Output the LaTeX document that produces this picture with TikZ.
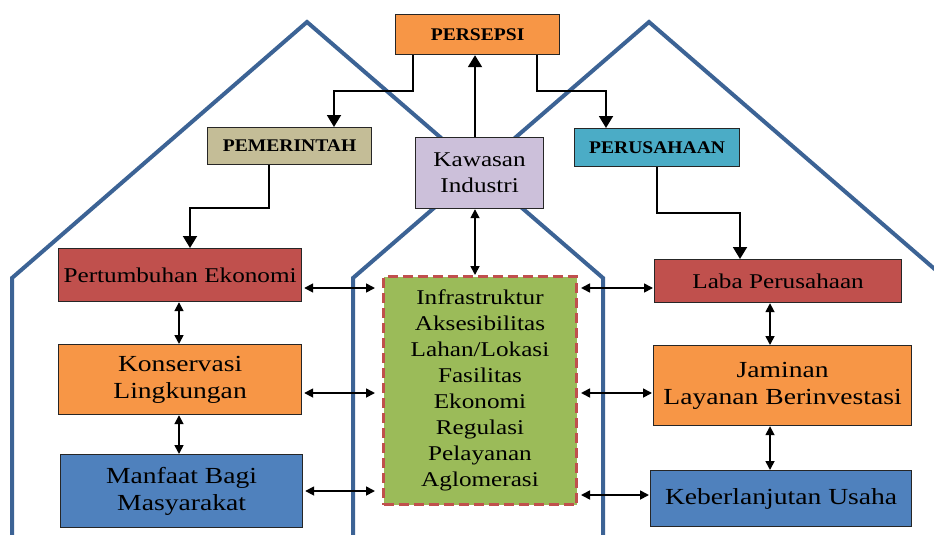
\documentclass[tikz,border=0pt]{standalone}
\usepackage{fontspec}
\setmainfont{Liberation Serif}[FakeStretch=1.2]
\newfontfamily\labelfont{Liberation Serif}[FakeStretch=1.1]
\usetikzlibrary{arrows.meta,calc}
\definecolor{housecol}{HTML}{3C6395}
\definecolor{cOrange}{HTML}{F79646}
\definecolor{cTan}{HTML}{C4BD97}
\definecolor{cTeal}{HTML}{4BACC6}
\definecolor{cLav}{HTML}{CCC0DA}
\definecolor{cRed}{HTML}{C0504D}
\definecolor{cBlue}{HTML}{4F81BD}
\definecolor{cGreen}{HTML}{9BBB59}
\begin{document}
\begin{tikzpicture}[x=1pt,y=-1pt,
  house/.style={draw=housecol, line width=4pt},
  box/.style={draw=black!85, line width=1.2pt, inner sep=0pt, align=center, anchor=north west},
  lbl/.style={box, font=\labelfont\bfseries\fontsize{17.8}{20}\selectfont},
  txt/.style={box, font=\fontsize{21}{26}\selectfont},
  txtb/.style={box, font=\fontsize{23}{27}\selectfont},
  arr/.style={draw=black, line width=1.9pt, -{Triangle[length=12pt,width=14pt]}},
  darr/.style={draw=black, line width=1.7pt, {Triangle[length=9pt,width=9pt]}-{Triangle[length=9pt,width=9pt]}}
]
\useasboundingbox (0,0) rectangle (934,535);
\begin{scope}
\clip (0,0) rectangle (934,535);
\draw[house] (12,545) -- (12,278) -- (307,22) -- (603,278) -- (603,545);
\draw[house] (353,545) -- (353,278) -- (649,22) -- (945,278) -- (945,545);
\end{scope}

\node[lbl, fill=cOrange, minimum width=164pt, minimum height=40pt] (pers) at (395,14) {PERSEPSI};
\node[lbl, fill=cTan, minimum width=164pt, minimum height=37pt] (pem) at (207,127) {PEMERINTAH};
\node[lbl, fill=cTeal, minimum width=165pt, minimum height=38pt] (perus) at (574,128) {PERUSAHAAN};
\node[txt, fill=cLav, minimum width=128pt, minimum height=71pt] (kaw) at (415,137) {Kawasan\\Industri};

\node[txt, fill=cRed, minimum width=243pt, minimum height=53pt] (pe) at (58,248) {Pertumbuhan Ekonomi};
\node[txtb, fill=cOrange, minimum width=243pt, minimum height=70pt] (kl) at (58,344) {Konservasi\\Lingkungan};
\node[txtb, fill=cBlue, minimum width=242pt, minimum height=73pt] (mb) at (60,454) {Manfaat Bagi\\Masyarakat};

\node[txt, fill=cGreen, draw=cRed, line width=3pt, dash pattern=on 10pt off 5pt, minimum width=193pt, minimum height=228pt] (green) at (382,275)
  {Infrastruktur\\Aksesibilitas\\Lahan/Lokasi\\Fasilitas\\Ekonomi\\Regulasi\\Pelayanan\\Aglomerasi};

\node[txt, fill=cRed, minimum width=247pt, minimum height=43pt] (laba) at (654,259) {Laba Perusahaan};
\node[txtb, fill=cOrange, minimum width=258pt, minimum height=80pt] (jam) at (653,345) {Jaminan\\Layanan Berinvestasi};
\node[txtb, fill=cBlue, minimum width=261pt, minimum height=56pt] (keb) at (650,470) {Keberlanjutan Usaha};

% top connectors
\coordinate (a1) at (413,91);
\coordinate (a2) at (334,91);
\draw[arr] (pers.south -| a1) -- (a1) -- (a2) -- (pem.north -| a2);
\coordinate (b1) at (537,91);
\coordinate (b2) at (606,91);
\draw[arr] (pers.south -| b1) -- (b1) -- (b2) -- (perus.north -| b2);
\coordinate (kx) at (475,0);
\draw[arr] (kaw.north -| kx) -- (pers.south -| kx);
\draw[darr] (kaw.south -| kx) -- (green.north -| kx);

\coordinate (k1) at (269,208);
\coordinate (k2) at (190,208);
\draw[arr] (pem.south -| k1) -- (k1) -- (k2) -- (pe.north -| k2);
\coordinate (p1) at (657,213);
\coordinate (p2) at (740,213);
\draw[arr] (perus.south -| p1) -- (p1) -- (p2) -- (laba.north -| p2);

% vertical doubles
\coordinate (lx) at (179,0);
\draw[darr] (pe.south -| lx) -- (kl.north -| lx);
\draw[darr] (kl.south -| lx) -- (mb.north -| lx);
\coordinate (rx) at (770,0);
\draw[darr] (laba.south -| rx) -- (jam.north -| rx);
\draw[darr] (jam.south -| rx) -- (keb.north -| rx);

% horizontal doubles
\coordinate (h1) at (0,288);
\coordinate (h2) at (0,393);
\coordinate (h3) at (0,491);
\coordinate (h4) at (0,495);
\draw[darr, shorten >=7pt, shorten <=2pt] (pe.east |- h1) -- (green.west |- h1);
\draw[darr, shorten >=7pt, shorten <=2pt] (kl.east |- h2) -- (green.west |- h2);
\draw[darr, shorten >=7pt, shorten <=2pt] (mb.east |- h3) -- (green.west |- h3);
\draw[darr, shorten <=3pt, shorten >=1pt] (green.east |- h1) -- (laba.west |- h1);
\draw[darr, shorten <=3pt, shorten >=1pt] (green.east |- h2) -- (jam.west |- h2);
\draw[darr, shorten <=3pt, shorten >=1pt] (green.east |- h4) -- (keb.west |- h4);
\end{tikzpicture}
\end{document}
